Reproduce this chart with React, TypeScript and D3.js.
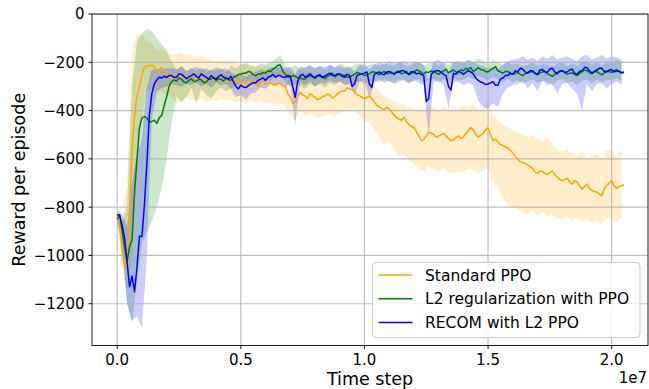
import React from 'react';
import * as d3 from 'd3';

// Mean curves: one sample every 1e5 steps (0 .. 2.05e7)
const MEAN_STEP = 1e5;
// Confidence bands: one sample every 2e5 steps (0 .. 2.04e7)
const BAND_STEP = 2e5;

const ORANGE_MEAN = [
  -830, -880, -980, -1050, -1030, -830, -570, -420, -340, -300,
  -250, -222, -215, -213, -212, -218, -238, -228, -222, -238,
  -255, -262, -265, -258, -275, -268, -262, -255, -258, -265,
  -262, -272, -270, -260, -265, -275, -272, -262, -268, -278,
  -275, -265, -270, -280, -278, -268, -272, -285, -282, -272,
  -285, -278, -288, -295, -280, -275, -290, -298, -284, -278,
  -292, -285, -285, -292, -295, -288, -288, -298, -300, -330,
  -345, -370, -365, -340, -325, -335, -340, -350, -330, -338,
  -345, -355, -350, -342, -340, -332, -335, -348, -342, -330,
  -325, -318, -320, -305, -310, -315, -318, -335, -338, -345,
  -352, -345, -340, -350, -365, -378, -385, -392, -395, -388,
  -392, -405, -420, -428, -435, -440, -428, -445, -458, -465,
  -470, -488, -505, -525, -520, -505, -490, -492, -498, -510,
  -505, -500, -495, -505, -515, -525, -522, -512, -505, -515,
  -510, -495, -485, -470, -480, -498, -510, -502, -495, -480,
  -470, -500, -525, -518, -530, -540, -545, -550, -555, -565,
  -575, -590, -600, -612, -615, -620, -625, -632, -640, -655,
  -660, -650, -652, -660, -665, -655, -650, -665, -675, -685,
  -690, -685, -680, -695, -705, -690, -695, -712, -725, -715,
  -705, -722, -730, -735, -738, -745, -752, -725, -710, -700,
  -690, -712, -722, -715, -710, -708,
];
const ORANGE_HI = [
  -815, -850, -700, -150, -80, -90, -110, -120, -150, -140, -160,
  -165, -170, -160, -175, -170, -180, -175, -185, -190, -195,
  -190, -200, -195, -205, -210, -200, -215, -210, -220, -215,
  -225, -220, -230, -225, -240, -250, -230, -245, -240, -250,
  -255, -245, -250, -260, -250, -245, -240, -250, -265, -275,
  -280, -300, -320, -340, -350, -360, -375, -370, -385, -390,
  -400, -395, -380, -390, -400, -385, -395, -400, -390, -380,
  -385, -375, -400, -390, -360, -420, -440, -460, -470, -480,
  -490, -500, -510, -500, -520, -530, -510, -540, -560, -570,
  -560, -580, -590, -570, -600, -590, -580, -600, -560, -570,
  -590, -565,
];
const ORANGE_LO = [
  -845, -1060, -1150, -1000, -600, -420, -320, -310, -330, -320, -340,
  -350, -370, -360, -345, -355, -360, -350, -365, -355, -360,
  -350, -360, -355, -365, -360, -370, -355, -365, -360, -370,
  -365, -375, -370, -380, -420, -440, -400, -420, -410, -425,
  -430, -420, -415, -425, -410, -400, -395, -400, -420, -440,
  -450, -480, -510, -540, -530, -560, -590, -580, -610, -620,
  -640, -650, -630, -645, -650, -640, -655, -660, -650, -655,
  -640, -645, -660, -650, -640, -700, -720, -760, -790, -800,
  -810, -820, -830, -815, -835, -820, -840, -830, -845, -850,
  -840, -855, -845, -860, -850, -865, -855, -870, -845, -850,
  -860, -845,
];

const GREEN_MEAN = [
  -850, -830, -900, -965, -1025, -963, -936, -740, -600, -470,
  -430, -425, -430, -448, -445, -440, -453, -430, -420, -380,
  -342, -300, -280, -273, -278, -265, -270, -282, -285, -275,
  -268, -280, -278, -270, -272, -285, -282, -270, -270, -262,
  -276, -268, -270, -278, -265, -272, -275, -262, -258, -250,
  -250, -245, -245, -238, -240, -252, -256, -248, -250, -242,
  -245, -235, -238, -228, -222, -212, -211, -238, -250, -260,
  -262, -255, -258, -265, -262, -270, -270, -262, -255, -260,
  -265, -255, -258, -262, -268, -258, -252, -245, -260, -255,
  -248, -252, -255, -262, -262, -255, -250, -242, -245, -250,
  -255, -250, -248, -240, -240, -245, -252, -244, -238, -248,
  -245, -240, -250, -242, -236, -248, -244, -238, -252, -246,
  -240, -232, -235, -242, -248, -240, -242, -236, -238, -245,
  -250, -242, -236, -228, -244, -238, -232, -240, -240, -232,
  -235, -226, -228, -222, -238, -232, -222, -230, -232, -238,
  -240, -232, -225, -218, -235, -240, -245, -238, -238, -246,
  -250, -245, -242, -250, -255, -248, -245, -240, -238, -246,
  -252, -244, -240, -236, -248, -252, -258, -250, -242, -238,
  -236, -242, -250, -245, -244, -250, -255, -246, -240, -232,
  -235, -242, -248, -240, -238, -246, -252, -244, -235, -238,
  -242, -236, -230, -238, -245, -242,
];
const GREEN_HI = [
  -830, -860, -800, -300, -110, -80, -60, -70, -100, -125, -150,
  -200, -230, -215, -240, -225, -235, -220, -240, -230, -235,
  -225, -240, -215, -225, -210, -205, -215, -220, -205, -210,
  -200, -185, -170, -215, -225, -210, -230, -220, -215, -225,
  -215, -230, -210, -225, -205, -215, -225, -210, -205, -220,
  -210, -205, -215, -200, -210, -215, -200, -210, -215, -205,
  -200, -215, -205, -200, -215, -200, -210, -195, -205, -200,
  -190, -200, -185, -195, -205, -190, -200, -210, -200, -210,
  -205, -215, -210, -200, -215, -205, -210, -220, -205, -200,
  -215, -205, -215, -200, -195, -210, -200, -215, -195, -205,
  -190, -200,
];
const GREEN_LO = [
  -860, -960, -1200, -1280, -1100, -950, -900, -860, -800, -720, -600,
  -450, -340, -365, -345, -305, -370, -310, -335, -350, -320,
  -305, -320, -310, -295, -290, -280, -280, -295, -285, -275,
  -275, -260, -250, -285, -300, -290, -300, -310, -290, -300,
  -290, -305, -285, -295, -280, -290, -300, -285, -280, -290,
  -280, -275, -285, -270, -280, -285, -270, -280, -290, -275,
  -270, -285, -275, -270, -285, -270, -280, -265, -275, -270,
  -260, -270, -255, -265, -275, -260, -270, -280, -270, -285,
  -275, -290, -280, -270, -285, -275, -280, -300, -275, -270,
  -285, -280, -295, -275, -270, -290, -270, -285, -270, -275,
  -265, -280,
];

const BLUE_MEAN = [
  -830, -835, -875, -930, -1030, -1130, -1085, -1150, -1050, -920,
  -922, -790, -618, -420, -330, -290, -273, -262, -265, -258,
  -262, -255, -255, -262, -262, -248, -250, -258, -268, -260,
  -255, -248, -258, -265, -248, -255, -262, -270, -255, -265,
  -270, -258, -252, -262, -265, -270, -258, -280, -300, -310,
  -295, -302, -305, -298, -290, -285, -285, -275, -270, -265,
  -275, -262, -258, -250, -262, -255, -255, -262, -262, -255,
  -258, -300, -345, -280, -255, -250, -262, -255, -248, -258,
  -265, -255, -252, -262, -258, -250, -245, -255, -255, -248,
  -250, -258, -262, -250, -255, -300, -290, -255, -250, -248,
  -245, -240, -290, -305, -250, -245, -240, -248, -252, -240,
  -238, -245, -248, -240, -242, -235, -235, -245, -250, -238,
  -240, -248, -245, -250, -255, -362, -350, -250, -240, -235,
  -235, -242, -250, -255, -300, -315, -245, -250, -238, -242,
  -250, -242, -235, -240, -248, -265, -275, -282, -285, -292,
  -290, -285, -280, -295, -295, -270, -265, -255, -255, -245,
  -250, -235, -240, -225, -228, -240, -245, -235, -235, -245,
  -250, -232, -230, -240, -242, -228, -225, -240, -248, -236,
  -235, -242, -240, -232, -228, -245, -250, -238, -235, -222,
  -222, -235, -245, -238, -232, -225, -225, -238, -240, -232,
  -230, -240, -235, -238, -242, -240,
];
const BLUE_HI = [
  -815, -830, -880, -700, -580, -520, -300, -230, -230, -230, -225,
  -225, -230, -215, -235, -225, -220, -230, -225, -235, -220,
  -230, -225, -240, -255, -250, -260, -245, -240, -230, -235,
  -220, -225, -215, -225, -220, -250, -215, -225, -210, -225,
  -215, -220, -210, -220, -215, -225, -215, -240, -210, -205,
  -230, -210, -200, -210, -195, -205, -200, -195, -205, -195,
  -200, -210, -270, -195, -190, -205, -240, -200, -195, -205,
  -190, -200, -210, -215, -225, -220, -230, -210, -195, -190,
  -185, -175, -190, -180, -195, -175, -185, -170, -190, -180,
  -175, -185, -195, -175, -170, -190, -180, -170, -185, -175,
  -180, -190,
];
const BLUE_LO = [
  -845, -960, -1200, -1270, -1250, -1300, -1000, -440, -320, -305, -300,
  -290, -295, -300, -290, -295, -285, -300, -290, -305, -285,
  -295, -290, -310, -345, -335, -355, -330, -325, -305, -310,
  -290, -295, -285, -300, -290, -460, -285, -295, -280, -300,
  -285, -290, -275, -285, -280, -295, -285, -340, -280, -275,
  -350, -285, -270, -285, -275, -290, -280, -270, -285, -275,
  -285, -295, -510, -280, -275, -295, -390, -285, -280, -295,
  -285, -295, -360, -385, -390, -370, -385, -330, -305, -295,
  -290, -275, -310, -285, -320, -275, -295, -285, -330, -290,
  -285, -310, -330, -400, -290, -320, -290, -285, -310, -290,
  -280, -295,
];

const SERIES_NAMES = ['Standard PPO', 'L2 regularization with PPO', 'RECOM with L2 PPO'];
const SERIES_COLORS = ['#FFA500', '#008000', '#0000FF'];
const X_TICKS = [0, 0.5e7, 1.0e7, 1.5e7, 2.0e7];
const X_TICK_LABELS = ['0.0', '0.5', '1.0', '1.5', '2.0'];
const Y_TICKS = [0, -200, -400, -600, -800, -1000, -1200];

const W = 649;
const H = 389;
const L = 92, R = 648, T = 14, B = 345.5;
const FONT = 'DejaVu Sans, sans-serif';

export default function App() {
  const x = d3.scaleLinear().domain([-0.102e7, 2.147e7]).range([L, R]);
  const y = d3.scaleLinear().domain([-1373, 0]).range([B, T]);

  const series = [
    { mean: ORANGE_MEAN, lo: ORANGE_LO, hi: ORANGE_HI },
    { mean: GREEN_MEAN, lo: GREEN_LO, hi: GREEN_HI },
    { mean: BLUE_MEAN, lo: BLUE_LO, hi: BLUE_HI },
  ];

  const line = (arr: number[]) =>
    d3.line<number>().x((_, i) => x(i * MEAN_STEP)).y((d) => y(d))(arr) || '';
  const area = (lo: number[], hi: number[]) =>
    d3
      .area<number>()
      .x((_, i) => x(i * BAND_STEP))
      .y0((_, i) => y(lo[i]))
      .y1((_, i) => y(hi[i]))(lo) || '';

  const legX = 372.5, legY = 262.5, legW = 267.5, legH = 75;

  return (
    <svg
      width={W}
      height={H}
      style={{ position: 'absolute', left: 0, top: 0, background: '#fff' }}
      fontFamily={FONT}
    >
      <defs>
        <clipPath id="plotclip">
          <rect x={L} y={T} width={R - L} height={B - T} />
        </clipPath>
      </defs>
      <g clipPath="url(#plotclip)">
        {series.map((s, k) => (
          <path key={'b' + k} d={area(s.lo, s.hi)} fill={SERIES_COLORS[k]} fillOpacity={0.2} stroke="none" />
        ))}
        {X_TICKS.map((t) => (
          <line key={'gx' + t} x1={x(t)} x2={x(t)} y1={T} y2={B} stroke="#b0b0b0" strokeWidth={1.2} opacity={0.8} />
        ))}
        {Y_TICKS.map((t) => (
          <line key={'gy' + t} x1={L} x2={R} y1={y(t)} y2={y(t)} stroke="#b0b0b0" strokeWidth={1.2} opacity={0.8} />
        ))}
        {series.map((s, k) => (
          <path key={'l' + k} d={line(s.mean)} fill="none" stroke={SERIES_COLORS[k]} strokeWidth={1.5} strokeLinejoin="round" />
        ))}
      </g>
      <rect x={L} y={T} width={R - L} height={B - T} fill="none" stroke="#000" strokeWidth={0.9} />
      {X_TICKS.map((t, i) => (
        <g key={'xt' + t}>
          <line x1={x(t)} x2={x(t)} y1={B} y2={B + 3.5} stroke="#000" strokeWidth={0.9} />
          <text x={x(t)} y={365} textAnchor="middle" fontSize={15} fill="#000">
            {X_TICK_LABELS[i]}
          </text>
        </g>
      ))}
      {Y_TICKS.map((t) => (
        <g key={'yt' + t}>
          <line x1={L - 3.5} x2={L} y1={y(t)} y2={y(t)} stroke="#000" strokeWidth={0.9} />
          <text x={84.5} y={y(t)} dy="0.36em" textAnchor="end" fontSize={15} fill="#000">
            {t < 0 ? '\u2212' + Math.abs(t) : String(t)}
          </text>
        </g>
      ))}
      <text x={647} y={382.5} textAnchor="end" fontSize={15} fill="#000">1e7</text>
      <text x={(L + R) / 2} y={385} textAnchor="middle" fontSize={17.5} fill="#000">Time step</text>
      <text transform={`translate(25,${(T + B) / 2}) rotate(-90)`} textAnchor="middle" fontSize={17.5} fill="#000">
        Reward per episode
      </text>
      <rect x={legX} y={legY} width={legW} height={legH} rx={3.5} fill="#fff" fillOpacity={0.8} stroke="#cccccc" strokeWidth={1} />
      {SERIES_NAMES.map((name, k) => {
        const ry = 275 + k * 23.7;
        return (
          <g key={'lg' + k}>
            <line x1={378.5} x2={412.5} y1={ry} y2={ry} stroke={SERIES_COLORS[k]} strokeWidth={1.5} />
            <text x={425} y={ry} dy="0.36em" fontSize={15.5} fill="#000">
              {name}
            </text>
          </g>
        );
      })}
    </svg>
  );
}
